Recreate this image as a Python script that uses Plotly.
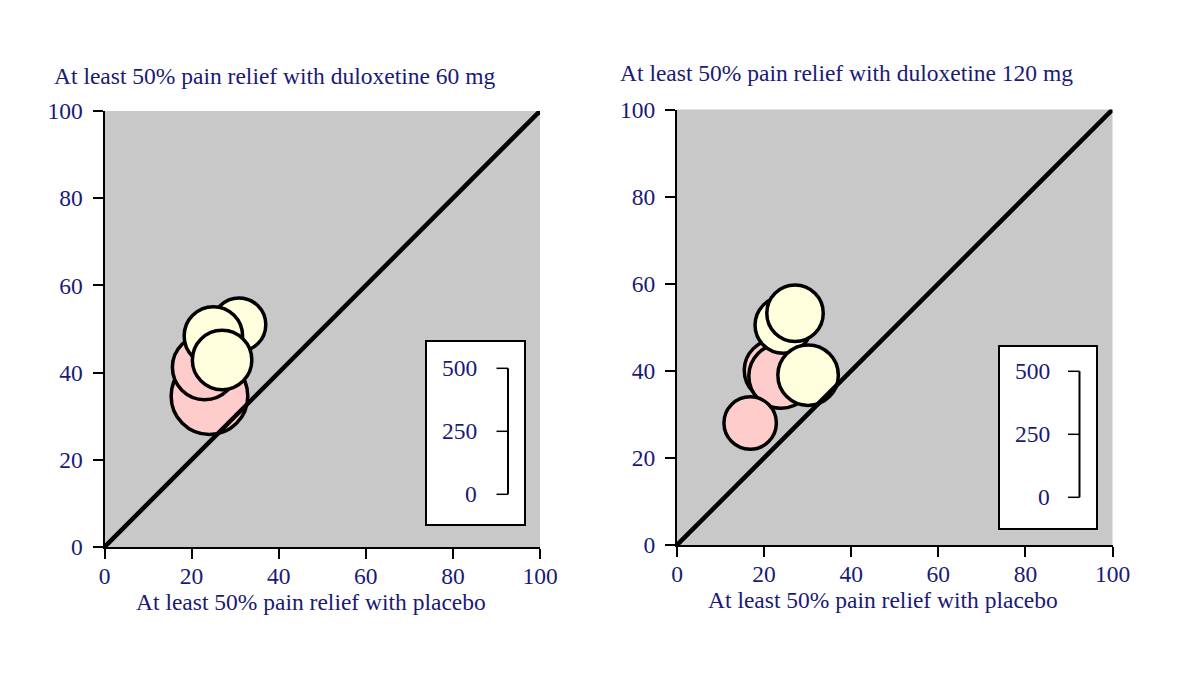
import plotly.graph_objects as go

# placebo responder rate (%), duloxetine responder rate (%), trial size, trial group
PLACEBO_60 = [24.1, 23.0, 30.9, 25.0, 27.0]
DULOX_60 = [34.6, 41.2, 51.0, 48.4, 42.9]
N_60 = [304, 256, 212, 232, 236]
GROUP_60 = ["a", "a", "b", "b", "b"]

PLACEBO_120 = [22.5, 23.9, 16.8, 24.4, 27.1, 30.1]
DULOX_120 = [40.1, 38.8, 28.0, 50.5, 53.2, 39.0]
N_120 = [244, 256, 208, 224, 224, 240]
GROUP_120 = ["a", "a", "a", "b", "b", "b"]

LEGEND_TICKS = [0, 250, 500]
AXIS_TICKS = [0, 20, 40, 60, 80, 100]

TITLES = ["At least 50% pain relief with duloxetine 60 mg",
          "At least 50% pain relief with duloxetine 120 mg"]
XTITLE = "At least 50% pain relief with placebo"

COLORS = {"a": "#FFCCCC", "b": "#FFFFDD"}
NAVY = "#1a1a75"
FONT = "Liberation Serif"
FS = 23.5
W, H = 1200, 685
OFFSET = 8  # page body margin
PX_PER_N = 126 / 500  # marker diameter in px per patient

fig = go.Figure()


def px(x):
    return (x - OFFSET) / W


def py(y):
    return 1 - (y - OFFSET) / H


panels = [
    (PLACEBO_60, DULOX_60, N_60, GROUP_60, "x", "y"),
    (PLACEBO_120, DULOX_120, N_120, GROUP_120, "x2", "y2"),
]
for xs, ys, ns, gs, xa, ya in panels:
    fig.add_trace(go.Scatter(
        x=xs, y=ys, mode="markers", xaxis=xa, yaxis=ya, showlegend=False,
        cliponaxis=False,
        marker=dict(size=[n * PX_PER_N for n in ns], sizemode="diameter",
                    color=[COLORS[g] for g in gs],
                    line=dict(color="black", width=3.5), opacity=1),
    ))
    fig.add_trace(go.Scatter(
        x=[0, 100], y=[0, 100], mode="lines", xaxis=xa, yaxis=ya,
        showlegend=False, line=dict(color="black", width=4.5),
    ))

# panel geometry in pixels: (left, right, top, bottom)
geo = [(104.5, 540, 111, 547), (677, 1112.5, 109.5, 545)]

axis_common = dict(
    range=[0, 100], tickvals=AXIS_TICKS, showgrid=False, zeroline=False,
    showline=True, linecolor="black", linewidth=2, ticks="outside",
    ticklen=10, tickwidth=1.5, tickcolor="black", automargin=False,
    tickfont=dict(family=FONT, size=FS, color=NAVY),
)
fig.update_layout(
    xaxis=dict(domain=[px(geo[0][0]), px(geo[0][1])], anchor="y",
               ticklabelstandoff=-3, **axis_common),
    yaxis=dict(domain=[py(geo[0][3]), py(geo[0][2])], anchor="x",
               ticklabelstandoff=5, **axis_common),
    xaxis2=dict(domain=[px(geo[1][0]), px(geo[1][1])], anchor="y2",
                ticklabelstandoff=-3, **axis_common),
    yaxis2=dict(domain=[py(geo[1][3]), py(geo[1][2])], anchor="x2",
                ticklabelstandoff=5, **axis_common),
)

shapes = []
annotations = []
title_pos = [(52, 75.5), (618, 73.5)]
xtitle_pos = [(311, 602), (883, 600)]
# legend box: (left, right, top, bottom), bracket x, y of zero tick, label right edge
boxes = [((426, 525, 341, 525), 508, 494.3, 479),
         ((999, 1097, 346, 529), 1079.5, 497.3, 1052)]

for i in range(2):
    annotations.append(dict(
        text=TITLES[i], xref="paper", yref="paper",
        x=px(title_pos[i][0]), y=py(title_pos[i][1]),
        xanchor="left", yanchor="middle", showarrow=False,
        font=dict(family=FONT, size=FS, color=NAVY),
    ))
    annotations.append(dict(
        text=XTITLE, xref="paper", yref="paper",
        x=px(xtitle_pos[i][0]), y=py(xtitle_pos[i][1]),
        xanchor="center", yanchor="middle", showarrow=False,
        font=dict(family=FONT, size=FS, color=NAVY),
    ))
    (bl, br, bt, bb), bx, y0, lx = boxes[i]
    shapes.append(dict(type="rect", xref="paper", yref="paper",
                       x0=px(bl), x1=px(br), y0=py(bb), y1=py(bt),
                       fillcolor="white", line=dict(color="black", width=2)))
    ytop = y0 - max(LEGEND_TICKS) * PX_PER_N
    shapes.append(dict(type="line", xref="paper", yref="paper",
                       x0=px(bx), x1=px(bx), y0=py(y0), y1=py(ytop),
                       line=dict(color="black", width=2)))
    for v in LEGEND_TICKS:
        yy = y0 - v * PX_PER_N
        shapes.append(dict(type="line", xref="paper", yref="paper",
                           x0=px(bx - 11.5), x1=px(bx), y0=py(yy), y1=py(yy),
                           line=dict(color="black", width=1.5)))
        annotations.append(dict(
            text=str(v), xref="paper", yref="paper",
            x=px(lx), y=py(yy), xanchor="right", yanchor="middle",
            showarrow=False, font=dict(family=FONT, size=FS, color=NAVY),
        ))

fig.update_layout(
    width=W, height=H,
    margin=dict(l=0, r=0, t=0, b=0, autoexpand=False),
    paper_bgcolor="white",
    plot_bgcolor="#C8C8C8",
    shapes=shapes,
    annotations=annotations,
)

fig.write_html("out.html")
